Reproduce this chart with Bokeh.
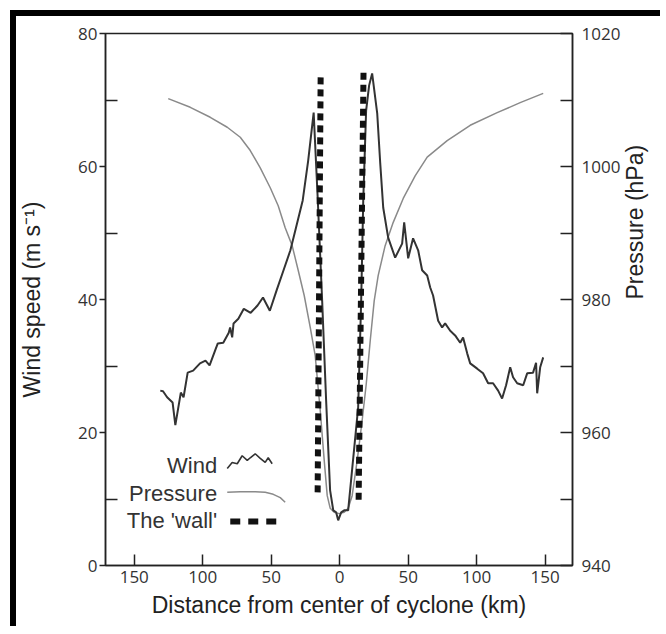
import math
from bokeh.plotting import figure
from bokeh.models import Range1d, LinearAxis, FixedTicker
from bokeh.embed import file_html
from bokeh.resources import INLINE
from bokeh.core.properties import value

# ---------------- data ----------------
wind_km = [-131, -129, -126, -122, -120, -116, -114, -111, -107, -102, -98, -95,
           -91, -89, -85, -81, -80, -78.5, -77.5, -74, -70, -65, -60, -56, -51,
           -46, -41, -36, -32, -27, -23, -19, -16, -12.8, -9.9, -7, -4.7, -2.6,
           -1.1, 1.1, 3.3, 6.2, 13.5, 15.7, 17.2, 19.3, 21.5, 23.7, 27.4, 29.6,
           31.8, 35.4, 40.5, 45.6, 47.1, 50.0, 53.6, 57.3, 60.2, 63.9, 66.1,
           68.2, 71.9, 74.8, 77.0, 80.7, 84.3, 88.0, 90.1, 93.1, 95.3, 100.4,
           104.7, 108.4, 112.0, 115.7, 118.6, 121.5, 124.5, 126.6, 129.6, 134.0,
           136.9, 141.2, 143.4, 144.2, 146.4, 148.6]
wind_ms = [26.3, 26.2, 25.3, 24.5, 21.1, 26.0, 25.3, 29.0, 29.3, 30.4, 30.8, 30.1,
           32.3, 33.4, 33.5, 35.0, 35.8, 34.3, 36.4, 37.1, 38.6, 38.0, 39.1, 40.3, 38.3,
           41.4, 44.4, 47.4, 50.7, 54.9, 60.9, 68.1, 55.0, 39.8, 24.8, 11.3, 8.3, 8.0,
           6.8, 8.0, 8.3, 8.3, 23.8, 39.8, 54.9, 68.4, 72.2, 74.0, 68.0, 60.5,
           53.8, 49.3, 46.3, 48.4, 51.6, 46.2, 49.2, 47.4, 44.4, 43.6, 41.8,
           40.6, 36.8, 35.8, 36.4, 35.3, 34.6, 33.5, 34.3, 31.9, 30.4, 29.6,
           28.9, 27.4, 27.4, 26.3, 25.1, 27.1, 29.8, 28.3, 27.4, 27.1,
           28.9, 29.0, 30.5, 25.9, 29.8, 31.3]

press_km = [-125.2, -109.1, -94.5, -82.1, -72.6, -65.3, -58.0, -50.7, -44.9, -39.8,
            -34.7, -30.3, -25.9, -21.5, -17.9, -14.2, -11.3, -9.1, -6.9, -4.0, -0.4,
            3.3, 6.2, 9.1, 12.8, 16.4, 19.3, 22.3, 25.2, 28.1, 33.2, 39.1, 46.4,
            55.1, 63.9, 78.5, 95.3, 115.0, 131.8, 148.6]
press_hpa = [1010.2, 1008.9, 1007.4, 1005.9, 1004.4, 1002.4, 999.8, 996.8, 994.1, 990.8,
             988.1, 984.4, 980.6, 975.8, 971.6, 963.3, 955.8, 950.5, 948.6, 948.0, 947.8,
             948.0, 948.6, 950.5, 955.8, 961.8, 967.1, 973.8, 979.8, 983.6, 988.1, 991.6, 995.2,
             998.6, 1001.4, 1003.9, 1006.2, 1008.1, 1009.6, 1011.0]

wall_left_km = [-13.9, -16.1]
wall_left_ms = [73.4, 10.8]
wall_right_km = [17.4, 13.8]
wall_right_ms = [74.1, 9.3]

x_ticks = [-150, -100, -50, 0, 50, 100, 150]
wind_ticks = [0, 20, 40, 60, 80]
wind_minor = [10, 30, 50, 70]
press_ticks = [940, 960, 980, 1000, 1020]
press_minor = [950, 970, 990, 1010]
legend_labels = ["Wind", "Pressure", "The 'wall'"]

# ---------------- layout constants (legend placement, data units) ----------------
LEG_TEXT_X = -89.5
LEG_TEXT_Y = [15.0, 10.8, 6.8]
wig_x = [-82.1, -78.5, -74.8, -71.2, -67.5, -65.3, -61.7, -58.0, -54.4, -52.2, -49.3]
wig_y = [14.6, 15.5, 15.3, 16.5, 15.8, 16.2, 16.8, 16.1, 15.5, 16.2, 15.3]
pleg_x = [-82.1, -72.6, -61.7, -54.4, -48.5, -43.4, -39.8]
pleg_y = [11.0, 11.1, 11.1, 11.0, 10.7, 10.2, 9.5]
wleg_x = [-79.9, -45.6]
wleg_y = [6.6, 6.6]

INK = "#222222"
TICK_FONT = "Open Sans"
TITLE_FONT = "Liberation Sans"

p = figure(width=650, height=616, x_range=Range1d(-171, 170), y_range=Range1d(0, 80),
           output_backend="svg", toolbar_location=None, y_axis_location=None,
           x_axis_location=None,
           min_border_left=88, min_border_right=94, min_border_top=17, min_border_bottom=67)
p.extra_y_ranges = {"press": Range1d(940, 1020)}
p.xgrid.visible = False
p.ygrid.visible = False
p.outline_line_color = INK
p.outline_line_width = 1.5
p.background_fill_color = "white"
p.border_fill_color = "white"
# black frame band along the top and left edge of the picture
p.styles = {"margin-top": "16px", "margin-left": "16px",
            "box-shadow": "-6px -6px 0 0 #000000"}


def style_axis(ax):
    ax.axis_line_color = INK
    ax.axis_line_width = 1.5
    ax.major_tick_line_color = INK
    ax.minor_tick_line_color = INK
    ax.major_tick_line_width = 1.5
    ax.minor_tick_line_width = 1.5
    ax.major_label_text_font = TICK_FONT
    ax.major_label_text_font_size = "17px"
    ax.major_label_text_color = "#333333"
    ax.axis_label_text_font = TITLE_FONT
    ax.axis_label_text_font_style = "normal"
    ax.axis_label_text_font_size = "23px"
    ax.axis_label_text_color = INK


# bottom axis
xa = LinearAxis(ticker=FixedTicker(ticks=x_ticks),
                axis_label="Distance from center of cyclone (km)")
xa.major_label_overrides = {t: str(abs(t)) for t in x_ticks}
style_axis(xa)
xa.major_tick_in = 11
xa.major_tick_out = 0
xa.minor_tick_in = 0
xa.minor_tick_out = 0
xa.major_label_standoff = 5
xa.axis_label_standoff = 6
p.add_layout(xa, "below")

# left axis
ya = LinearAxis(ticker=FixedTicker(ticks=wind_ticks, minor_ticks=wind_minor),
                axis_label="Wind speed (m s\u207b\u00b9)")
style_axis(ya)
ya.major_tick_in = 0
ya.major_tick_out = 6
ya.minor_tick_in = 12
ya.minor_tick_out = 0
ya.major_label_standoff = 2
ya.axis_label_standoff = 30
p.add_layout(ya, "left")

# right axis (title reads bottom-to-top, like the left one)
ra = LinearAxis(y_range_name="press",
                ticker=FixedTicker(ticks=press_ticks, minor_ticks=press_minor),
                axis_label="Pressure (hPa)")
style_axis(ra)
ra.axis_label_orientation = math.pi / 2
ra.major_tick_in = 12
ra.major_tick_out = 0
ra.minor_tick_in = 12
ra.minor_tick_out = 0
ra.major_label_standoff = 9
ra.axis_label_standoff = 12
p.add_layout(ra, "right")

# series
p.line(press_km, press_hpa, y_range_name="press", line_color="#8a8a8a", line_width=1.5)
p.line(wind_km, wind_ms, line_color="#333333", line_width=2)
p.line(wall_left_km, wall_left_ms, line_color="#111111", line_width=6, line_dash="7 5")
p.line(wall_right_km, wall_right_ms, line_color="#111111", line_width=6, line_dash="7 5")

# legend (label on the left, sample on the right)
p.text(x=[LEG_TEXT_X] * 3, y=LEG_TEXT_Y, text=legend_labels, text_align="right",
       text_baseline="middle", text_font=value(TITLE_FONT), text_font_size="22px",
       text_color="#333333")
p.line(wig_x, wig_y, line_color="#333333", line_width=1.6)
p.line(pleg_x, pleg_y, line_color="#8a8a8a", line_width=1.5)
p.line(wleg_x, wleg_y, line_color="#111111", line_width=6, line_dash="10 8")

open("out.html", "w").write(file_html(p, INLINE))
